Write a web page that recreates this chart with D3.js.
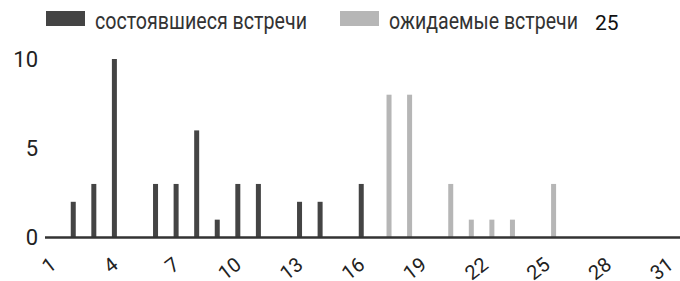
<!DOCTYPE html>
<html><head><meta charset="utf-8">
<script src="https://cdn.jsdelivr.net/npm/d3@7"></script>
<style>
html,body{margin:0;padding:0;background:#fff;}
svg{display:block;font-family:Roboto,"Noto Sans",sans-serif;}
</style></head>
<body><svg id="c" width="680" height="281"></svg>
<script>
const days = [1,2,3,4,5,6,7,8,9,10,11,12,13,14,15,16,17,18,19,20,21,22,23,24,25,26,27,28,29,30,31];
const doneMeetings     = [0,2,3,10,0,3,3,6,1,3,3,0,2,2,0,3,0,0,0,0,0,0,0,0,0,0,0,0,0,0,0];
const expectedMeetings = [0,0,0,0,0,0,0,0,0,0,0,0,0,0,0,0,8,8,0,3,1,1,1,0,3,0,0,0,0,0,0];
const xTickLabels = [1,4,7,10,13,16,19,22,25,28,31];
const yTickLabels = [0,5,10];
const seriesNames = ["состоявшиеся встречи","ожидаемые встречи"];
const seriesKeys = ["done","exp"];
const seriesColors = ["#444444","#b6b6b6"];
const strayLabel = "25";

const svg = d3.select("#c");
const x = d3.scaleBand().domain(days).range([46, 683.7]).padding(0);
const x1 = d3.scaleBand().domain(seriesKeys).range([0, x.bandwidth()]).paddingInner(0.306).paddingOuter(0.58);
const y = d3.scaleLinear().domain([0, 10]).range([237.5, 59]);

const rows = days.map((d,i)=>({day:d, done:doneMeetings[i], exp:expectedMeetings[i]}));
const color = d3.scaleOrdinal().domain(seriesKeys).range(seriesColors);

// bars
const g = svg.append("g");
g.selectAll("g.day").data(rows).join("g")
  .attr("transform", d=>`translate(${x(d.day)},0)`)
  .selectAll("rect").data(d=>seriesKeys.map(k=>({k, v:d[k]})).filter(e=>e.v>0)).join("rect")
  .attr("x", e=>x1(e.k)).attr("width", x1.bandwidth())
  .attr("y", e=>y(e.v)).attr("height", e=>y(0)-y(e.v))
  .attr("fill", e=>color(e.k));

// x axis line
svg.append("line").attr("x1",45).attr("x2",680).attr("y1",y(0)).attr("y2",y(0))
  .attr("stroke","#333").attr("stroke-width",2.5);

// x tick labels
svg.append("g").selectAll("text").data(xTickLabels).join("text")
  .attr("transform", d=>`translate(${x(d)+x.bandwidth()/2-2},263) rotate(-38)`)
  .attr("text-anchor","end").attr("dominant-baseline","middle")
  .attr("font-size",20).attr("fill","#222").text(d=>d);

// y tick labels
svg.append("g").selectAll("text").data(yTickLabels).join("text")
  .attr("x",38).attr("y",d=>y(d)).attr("dy","0.35em")
  .attr("text-anchor","end").attr("font-size",22).attr("fill","#222").text(d=>d);

// legend
const legendX = [46, 340];
const legendTextX = [95, 389];
const legendTextW = [212, 189];
const lg = svg.append("g");
seriesNames.forEach((n,i)=>{
  lg.append("rect").attr("x",legendX[i]).attr("y",11).attr("width",39).attr("height",15).attr("fill",seriesColors[i]);
  lg.append("text").attr("x",legendTextX[i]).attr("y",28.5).attr("font-size",23).attr("fill","#333")
    .attr("textLength",legendTextW[i]).attr("lengthAdjust","spacingAndGlyphs").text(n);
});
lg.append("text").attr("x",595).attr("y",30).attr("font-size",21).attr("fill","#111").text(strayLabel);
</script></body></html>
